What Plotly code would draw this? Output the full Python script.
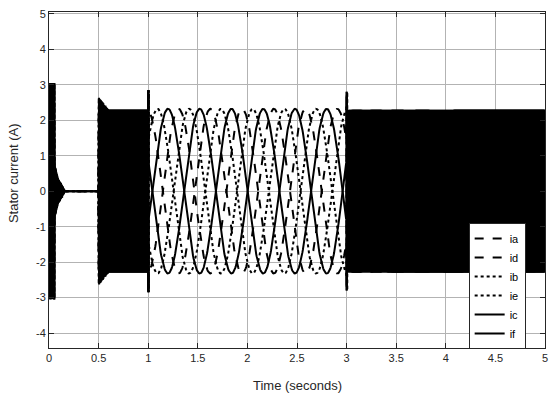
import numpy as np
import plotly.graph_objects as go

# ---- data ----
trace_names = ["ia", "id", "ib", "ie", "ic", "if"]
trace_dash = ["dash", "dash", "dot", "dot", "solid", "solid"]
phase_deg = [120, 120, -120, -120, 0, 0]      # three-phase offsets
phase_sign = [1, -1, 1, -1, 1, -1]             # second motor in antiphase

# waveform segments: start, end, frequency (Hz), amplitude at start, amplitude at end
seg_t0 = [0.000, 0.008, 0.055, 0.090, 0.160, 0.500, 0.600, 1.000, 1.006, 3.000, 3.006]
seg_t1 = [0.008, 0.055, 0.090, 0.160, 0.500, 0.600, 1.000, 1.006, 3.000, 3.006, 5.000]
seg_f = [0.0, 300.0, 150.0, 150.0, 0.0, 50.0, 50.0, 700.0, 1.5625, 700.0, 50.0]
seg_a0 = [0.0, 3.05, 0.75, 0.35, 0.0, 2.65, 2.30, 2.85, 2.32, 2.80, 2.30]
seg_a1 = [0.0, 3.05, 0.35, 0.00, 0.0, 2.30, 2.30, 2.85, 2.32, 2.80, 2.30]
seg_ref = [0.0, 0.0, 0.0, 0.0, 0.0, 0.5, 0.5, 1.0, 1.04, 3.0, 3.0]   # phase reference time

x_ticks = [0, 0.5, 1, 1.5, 2, 2.5, 3, 3.5, 4, 4.5, 5]
y_ticks = [-4, -3, -2, -1, 0, 1, 2, 3, 4, 5]


def build(k):
    ts, ys = [], []
    for t0, t1, f, a0, a1, ref in zip(seg_t0, seg_t1, seg_f, seg_a0, seg_a1, seg_ref):
        n = max(3, int((t1 - t0) * max(f * 16, 200)))
        t = np.linspace(t0, t1, n, endpoint=False)
        amp = a0 + (a1 - a0) * (t - t0) / (t1 - t0)
        ph = 2 * np.pi * f * (t - ref) + np.deg2rad(phase_deg[k])
        if f == 0:
            y = np.zeros_like(t)
        else:
            y = phase_sign[k] * amp * np.sin(ph)
        ts.append(t)
        ys.append(y)
    t = np.concatenate(ts + [np.array([5.0])])
    y = np.concatenate(ys + [ys[-1][-1:]])
    return np.round(t, 5), np.round(y, 3)


fig = go.Figure()
for k, name in enumerate(trace_names):
    t, y = build(k)
    fig.add_trace(go.Scatter(
        x=t, y=y, mode="lines", name=name,
        line=dict(color="black", width=2, dash=trace_dash[k]),
    ))

FONT = "Liberation Sans, Arial, sans-serif"
axis_common = dict(
    showline=True, linecolor="#262626", linewidth=1, mirror="ticks",
    ticks="inside", ticklen=5, tickcolor="#262626",
    showgrid=True, gridcolor="#b3b3b3", gridwidth=1,
    zeroline=False, automargin=False,
    tickfont=dict(family=FONT, size=11, color="#262626"),
)

fig.update_layout(
    width=550, height=401,
    margin=dict(l=49, r=5, t=12, b=53),
    paper_bgcolor="white", plot_bgcolor="white",
    font=dict(family=FONT, color="#262626"),
    xaxis=dict(range=[0, 5], tickvals=x_ticks, ticktext=[str(v) for v in x_ticks],
               **axis_common),
    yaxis=dict(range=[-4.42, 5.05], tickvals=y_ticks, ticktext=[str(v) for v in y_ticks],
               **axis_common),
    legend=dict(
        x=0.961, y=-0.003, xanchor="right", yanchor="bottom",
        bgcolor="white", bordercolor="#262626", borderwidth=1,
        font=dict(family=FONT, size=11, color="black"),
        tracegroupgap=0, itemwidth=30,
    ),
    showlegend=True,
    annotations=[
        dict(text="Time (seconds)", xref="paper", yref="paper", x=0.5, y=-0.083,
             xanchor="center", yanchor="top", showarrow=False,
             font=dict(family=FONT, size=13, color="#262626")),
        dict(text="Stator current (A)", xref="paper", yref="paper", x=-0.073, y=0.52,
             xanchor="center", yanchor="middle", textangle=-90, showarrow=False,
             font=dict(family=FONT, size=13, color="#262626")),
    ],
)

fig.write_html("out.html", config={"displayModeBar": False},
               post_script="document.body.style.margin='0';document.body.style.padding='0';")
